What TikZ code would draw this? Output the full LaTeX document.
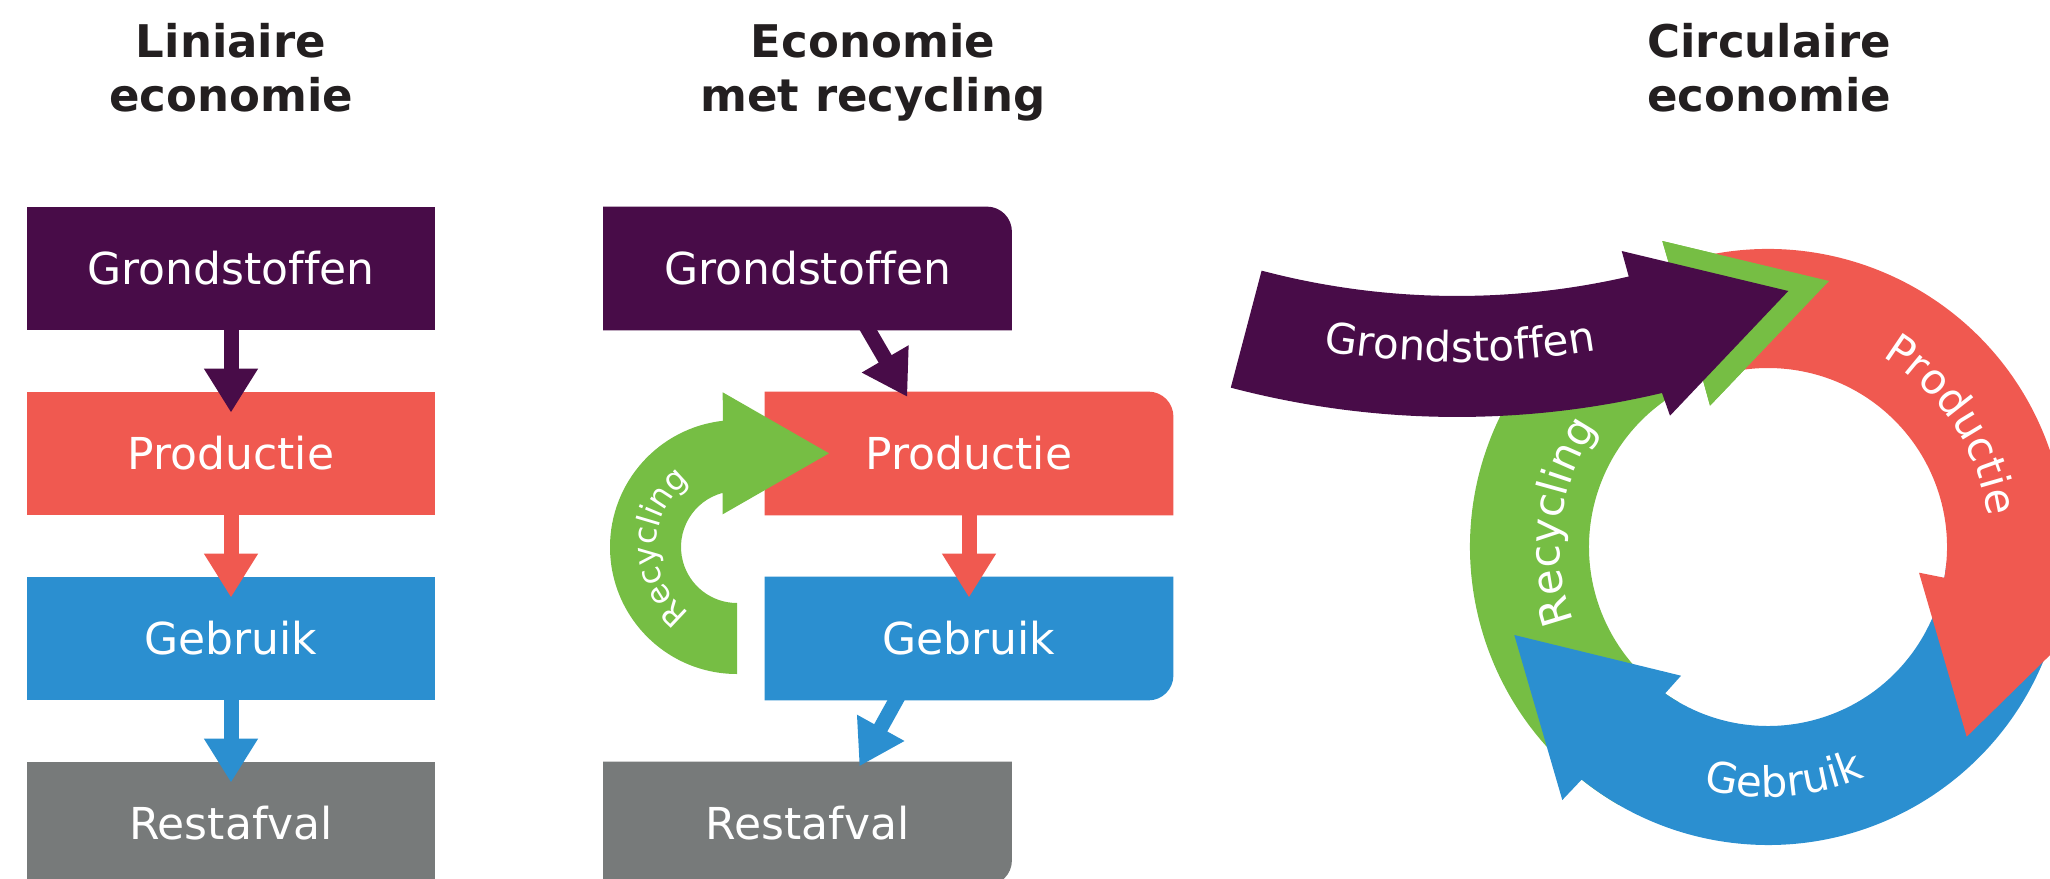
\documentclass[tikz,border=0pt]{standalone}
\usepackage{fontspec}
\setmainfont{DejaVu Sans}[Ligatures=CommonOff]
\usetikzlibrary{arrows.meta,decorations.text,backgrounds,calc}
\definecolor{cpurple}{RGB}{72,12,72}
\definecolor{cred}{RGB}{240,89,80}
\definecolor{cblue}{RGB}{43,143,208}
\definecolor{cgray}{RGB}{119,122,122}
\definecolor{cgreen}{RGB}{118,190,68}
\definecolor{ctitle}{RGB}{35,31,32}
\newcommand{\boxfont}{\fontsize{22}{26}\selectfont}
\newcommand{\ringfont}{\fontsize{21}{21}\selectfont\color{white}}
\newcommand{\smallringfont}{\fontsize{16}{16}\selectfont\color{white}}
\begin{document}
\begin{tikzpicture}[x=0.5pt,y=0.5pt,
  boxnode/.style={minimum width=204pt,minimum height=61.5pt,inner sep=0pt,text=white,font=\boxfont},
  titlenode/.style={align=center,anchor=base,inner sep=0pt,text=ctitle,font=\fontsize{22.5}{27}\selectfont\bfseries},
  flowarrow/.style={line width=7.5pt,-{Triangle[length=22pt,width=25.5pt]}},
]
\useasboundingbox (0,0) rectangle (2050,-878);

% titles (anchor at the baseline of the second line)
\node[titlenode] (t1) at (231,-111) {Liniaire\\economie};
\node[titlenode] (t2) at (873,-111) {Economie\\met recycling};
\node[titlenode] (t3) at (1769,-111) {Circulaire\\economie};

% linear economy
\node[boxnode,fill=cpurple] (a1) at (231,-268.5) {Grondstoffen};
\node[boxnode,fill=cred] (a2) at (231,-453.5) {Productie};
\node[boxnode,fill=cblue] (a3) at (231,-638.5) {Gebruik};
\node[boxnode,fill=cgray] (a4) at (231,-823.5) {Restafval};
\draw[flowarrow,cpurple] (a1.south) -- ([yshift=-10.5pt]a2.north);
\draw[flowarrow,cred] (a2.south) -- ([yshift=-10.5pt]a3.north);
\draw[flowarrow,cblue] (a3.south) -- ([yshift=-10.5pt]a4.north);

% economy with recycling
\node[boxnode] (b1) at (807.5,-268.5) {Grondstoffen};
\node[boxnode] (b2) at (969,-453.5) {Productie};
\node[boxnode] (b3) at (969,-638.5) {Gebruik};
\node[boxnode] (b4) at (807.5,-823.5) {Restafval};
\begin{scope}[on background layer]
\fill[cpurple] (b1.south west) -- (b1.north west) -- ([xshift=-12.5pt]b1.north east) arc[start angle=90,end angle=0,radius=12.5pt] -- (b1.south east) -- cycle;
\fill[cred] (b2.south west) -- (b2.north west) -- ([xshift=-12.5pt]b2.north east) arc[start angle=90,end angle=0,radius=12.5pt] -- (b2.south east) -- cycle;
\fill[cblue] (b3.north west) -- (b3.north east) -- ([yshift=12.5pt]b3.south east) arc[start angle=0,end angle=-90,radius=12.5pt] -- (b3.south west) -- cycle;
\fill[cgray] (b4.north west) -- (b4.north east) -- ([yshift=12.5pt]b4.south east) arc[start angle=0,end angle=-90,radius=12.5pt] -- (b4.south west) -- cycle;
\end{scope}
\draw[flowarrow,cpurple] ([shift={(28.5pt,3.5pt)}]b1.south) -- ([shift={(-30.85pt,-2.65pt)}]b2.north);
\draw[flowarrow,cred] (b2.south) -- ([yshift=-10.5pt]b3.north);
\draw[flowarrow,cblue] ([shift={(-34.6pt,3.5pt)}]b3.south) -- ([shift={(25.95pt,-2.35pt)}]b4.north);
\begin{scope}[shift={(737,-547)}]
  \fill[cgreen] (270:127) arc[start angle=270,end angle=96.4,radius=127] -- (-14.3,154.7) -- (92,93.7) -- (-14.3,32.7) -- (104.9:56) arc[start angle=104.9,end angle=270,radius=56] -- cycle;
  \path[decorate,decoration={text along path,text align=center,text={|\smallringfont|Recycling}}] (262:81) arc[start angle=262,end angle=98,radius=81];
\end{scope}

% circular economy
\begin{scope}[shift={(1768,-547)}]
  \fill[cgreen] (240:298) arc[start angle=240,end angle=109.3,radius=298] -- (-105.7,306) -- (61,266) -- (-58,141.3) -- (111.3:179) arc[start angle=111.3,end angle=240,radius=179] -- cycle;
  \fill[cblue] (-5:298) arc[start angle=-5,end angle=-128.7,radius=298] -- (-205.7,-253) -- (-253.7,-88) -- (-87,-128.7) -- (-125.1:179) arc[start angle=-125.1,end angle=-5,radius=179] -- cycle;
  \fill[cred] (109.3:298) arc[start angle=109.3,end angle=-10.4,radius=298] -- (329.9,-61.1) -- (198.7,-189.7) -- (151,-25.7) -- (-9.88:179) arc[start angle=-9.88,end angle=111.3,radius=179] -- cycle;
  \fill[cgreen] (115:298) arc[start angle=115,end angle=109.3,radius=298] -- (-105.7,306) -- (61,266) -- (-58,141.3) -- (111.3:179) arc[start angle=111.3,end angle=115,radius=179] -- cycle;
  \path[decorate,decoration={text along path,text align=center,text={|\ringfont|Productie}}] (83.5:222) arc[start angle=83.5,end angle=-16.5,radius=222];
  \path[decorate,decoration={text along path,text align=center,text={|\ringfont|Gebruik}}] (224:250) arc[start angle=224,end angle=324,radius=250];
  \path[decorate,decoration={text along path,text align=center,text={|\ringfont|Recycling}}] (223:208) arc[start angle=223,end angle=123,radius=208];
\end{scope}
\begin{scope}[shift={(1457,471)}]
  \fill[cpurple] (255.24:888) arc[start angle=255.24,end angle=283.35,radius=888] -- (213,-886.7) -- (331.3,-762) -- (164.7,-722) -- (282.94:767) arc[start angle=282.94,end angle=255.24,radius=767] -- cycle;
  \path[decorate,decoration={text along path,text align=center,text={|\ringfont|Grondstoffen}}] (255.2:833) arc[start angle=255.2,end angle=285.2,radius=833];
\end{scope}
\end{tikzpicture}
\end{document}
